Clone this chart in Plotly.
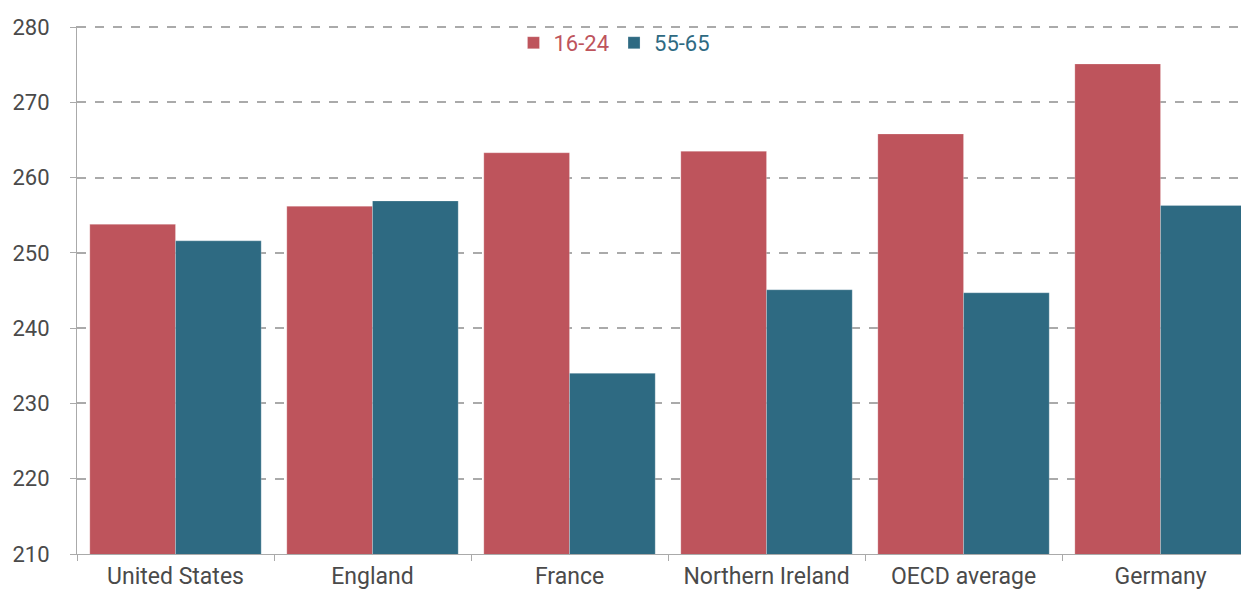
import plotly.graph_objects as go

categories = ["United States", "England", "France", "Northern Ireland", "OECD average", "Germany"]
age_16_24 = [253.8, 256.2, 263.3, 263.5, 265.8, 275.1]
age_55_65 = [251.6, 256.9, 234.0, 245.1, 244.7, 256.3]
y_ticks = [210, 220, 230, 240, 250, 260, 270, 280]

RED = "#BE545C"
BLUE = "#2E6A82"
TEXT = "#4a4a4a"

fig = go.Figure()
fig.add_trace(go.Bar(x=categories, y=age_16_24,
                     name=f"<span style='color:{RED}'>16-24</span>",
                     marker=dict(color=RED, line=dict(color="rgba(255,255,255,0.4)", width=0.6))))
fig.add_trace(go.Bar(x=categories, y=age_55_65,
                     name=f"<span style='color:{BLUE}'>55-65</span>",
                     marker=dict(color=BLUE, line=dict(color="rgba(255,255,255,0.4)", width=0.6))))

fig.update_layout(
    width=1241, height=584,
    margin=dict(l=69, r=0, t=18, b=38, autoexpand=False),
    barmode="group", bargap=0.13, bargroupgap=0,
    plot_bgcolor="white", paper_bgcolor="white",
    font=dict(family="Roboto", size=22, color=TEXT),
    showlegend=True,
    legend=dict(orientation="h", x=0.4586, xanchor="center", y=0.968, yanchor="middle",
                font=dict(size=22), itemwidth=30, bgcolor="rgba(0,0,0,0)",
                traceorder="normal"),
    xaxis=dict(type="category", range=[-0.5, 5.449], tickson="boundaries",
               ticks="outside", ticklen=6, tickcolor="#aaaaaa", ticklabelstandoff=1,
               showline=True, linecolor="#aaaaaa", linewidth=1,
               showgrid=False, tickfont=dict(family="Roboto", size=23, color=TEXT)),
    yaxis=dict(range=[210, 280.14], tickvals=y_ticks, ticks="outside", ticklen=6,
               tickcolor="#aaaaaa", showline=True, linecolor="#aaaaaa", linewidth=1,
               ticklabelstandoff=16,
               showgrid=True, gridcolor="#aaaaaa", griddash="dash", gridwidth=2,
               zeroline=False, tickfont=dict(family="Roboto", size=22, color=TEXT)),
)

fig.write_html("out.html")
